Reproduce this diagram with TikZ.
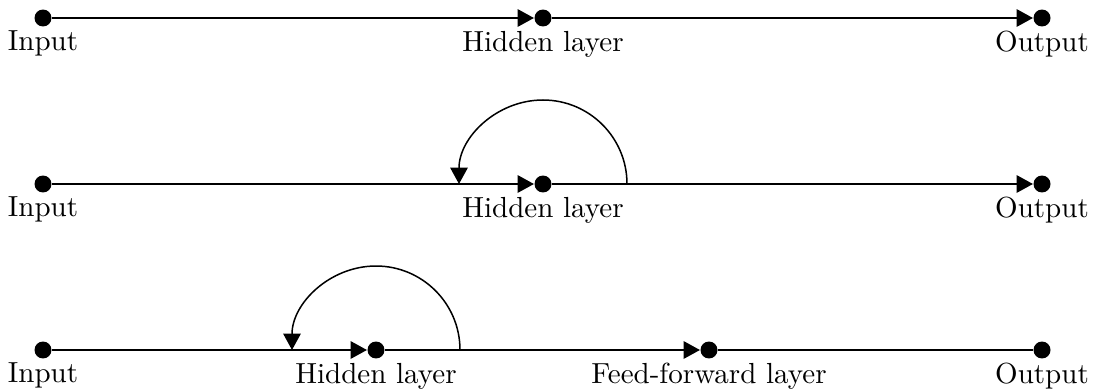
\documentclass[tikz,border=0pt]{standalone}
\usetikzlibrary{arrows.meta}
\begin{document}
\begin{tikzpicture}[x=0.365pt, y=-0.365pt,
  dot/.style={circle, fill=black, inner sep=0pt, minimum size=6.2pt},
  lbl/.style={label={[inner sep=0pt, label distance=1.2pt, font=\fontsize{10.6pt}{12pt}\selectfont]below:#1}},
  flow/.style={line width=0.65pt, -{Triangle[length=6pt,width=6.4pt]}},
  loopback/.style={line width=0.55pt, -{Triangle[length=6pt,width=6.4pt]}}]
\useasboundingbox (0,0) rectangle (1093,390);
% Row 1
\node[dot, lbl=Input] (in1) at (43,18) {};
\node[dot, lbl=Hidden layer] (h1) at (543,18) {};
\node[dot, lbl=Output] (out1) at (1042,18) {};
\draw[flow] (in1) -- (h1);
\draw[flow] (h1) -- (out1);
% Row 2
\node[dot, lbl=Input] (in2) at (43,184) {};
\node[dot, lbl=Hidden layer] (h2) at (543,184) {};
\node[dot, lbl=Output] (out2) at (1042,184) {};
\draw[flow] (in2) -- (h2);
\draw[flow] (h2) -- (out2);
\coordinate (r2) at (627,184);
\draw[loopback] (r2) arc[start angle=0, end angle=180, radius=30.66pt];
% Row 3
\node[dot, lbl=Input] (in3) at (43,350) {};
\node[dot, lbl=Hidden layer] (h3) at (376,350) {};
\node[dot, lbl=Feed-forward layer] (f3) at (709,350) {};
\node[dot, lbl=Output] (out3) at (1042,350) {};
\draw[flow] (in3) -- (h3);
\draw[flow] (h3) -- (f3);
\draw[line width=0.65pt] (f3) -- (out3);
\coordinate (r3) at (460,350);
\draw[loopback] (r3) arc[start angle=0, end angle=180, radius=30.66pt];
\end{tikzpicture}
\end{document}
